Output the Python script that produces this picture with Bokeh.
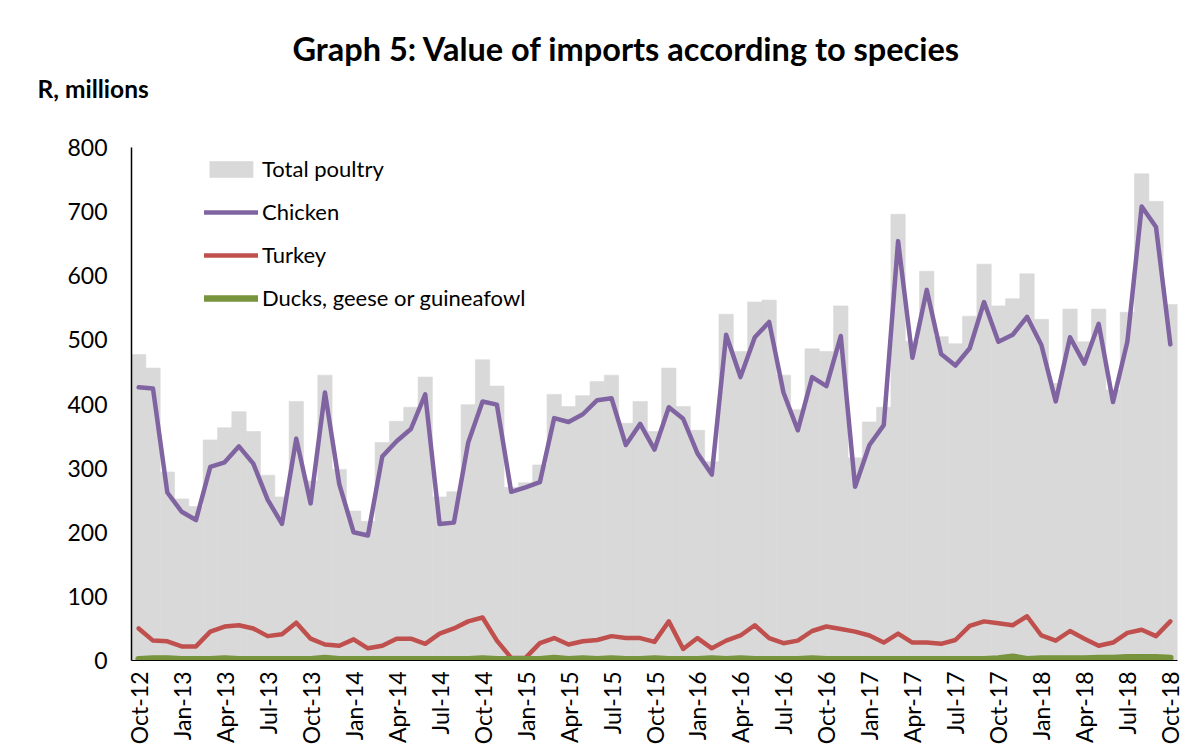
from math import pi
from bokeh.plotting import figure
from bokeh.models import (ColumnDataSource, Legend, LegendItem, Title,
                          FixedTicker, Range1d)
from bokeh.embed import file_html
from bokeh.resources import INLINE

# ---- data (R, millions), monthly Oct-12 .. Oct-18 ----
month_names = ["Jan", "Feb", "Mar", "Apr", "May", "Jun",
               "Jul", "Aug", "Sep", "Oct", "Nov", "Dec"]
months = []
for k in range(73):
    m = (9 + k) % 12
    y = 12 + (9 + k) // 12
    months.append(f"{month_names[m]}-{y:02d}")

total_poultry = [477, 456, 294, 252, 240, 344, 363, 388, 357, 289,
                 255, 404, 280, 445, 298, 233, 217, 340, 373, 395,
                 442, 255, 263, 399, 469, 428, 270, 277, 305, 415,
                 396, 413, 435, 445, 370, 404, 357, 456, 396, 359,
                 310, 540, 482, 559, 562, 445, 391, 486, 482, 553,
                 316, 372, 395, 696, 498, 607, 505, 494, 537, 618,
                 553, 564, 603, 532, 432, 548, 497, 548, 422, 543,
                 759, 716, 555]

chicken = [426, 424, 262, 232, 219, 302, 309, 334, 307, 251,
           213, 346, 245, 418, 275, 200, 195, 318, 342, 361,
           415, 213, 215, 340, 404, 399, 263, 270, 278, 378,
           372, 384, 406, 409, 336, 369, 329, 395, 377, 323,
           290, 508, 442, 504, 528, 418, 359, 442, 428, 506,
           271, 336, 367, 654, 472, 578, 478, 460, 487, 559,
           497, 508, 536, 492, 404, 504, 463, 525, 403, 497,
           708, 676, 493]

turkey = [50, 31, 30, 22, 22, 45, 53, 55, 50, 38,
          41, 59, 34, 25, 23, 33, 19, 23, 34, 34,
          26, 42, 50, 61, 67, 31, 4, 4, 27, 35,
          25, 30, 32, 38, 35, 35, 29, 61, 18, 35,
          19, 31, 39, 55, 35, 27, 31, 46, 53, 49,
          45, 39, 28, 42, 28, 28, 26, 32, 54, 61,
          58, 55, 69, 39, 31, 46, 34, 23, 28, 43,
          48, 38, 61]

ducks = [2, 3, 3, 2, 2, 2, 3, 2, 2, 2,
         2, 2, 2, 4, 2, 2, 2, 2, 2, 2,
         2, 2, 2, 2, 3, 2, 2, 2, 2, 4,
         2, 3, 2, 3, 2, 2, 3, 2, 2, 2,
         3, 2, 3, 2, 2, 2, 2, 3, 2, 2,
         2, 2, 2, 2, 2, 2, 2, 2, 2, 2,
         3, 6, 2, 3, 3, 3, 3, 4, 4, 5,
         5, 5, 4]

tick_idx = list(range(0, 73, 3))

assert len(total_poultry) == len(chicken) == len(turkey) == len(ducks) == 73

src = ColumnDataSource(dict(x=list(range(73)), total=total_poultry,
                            chicken=chicken, turkey=turkey, ducks=ducks,
                            month=months))

FONT = "Lato"

p = figure(width=1199, height=751, output_backend="svg", toolbar_location=None,
           x_range=Range1d(-0.5, 72.5), y_range=Range1d(0, 800),
           min_border_left=131, min_border_right=22,
           min_border_top=147, min_border_bottom=91,
           background_fill_color="white", border_fill_color="white")
p.outline_line_color = None
p.grid.visible = False

bars = p.vbar(x="x", top="total", width=1.0, source=src,
              fill_color="#d9d9d9", line_color="#d9d9d9", line_width=0.6)
l_ch = p.line("x", "chicken", source=src, line_color="#8064a2", line_width=4.5,
              line_join="round", line_cap="round")
l_tu = p.line("x", "turkey", source=src, line_color="#c0504d", line_width=4.5,
              line_join="round", line_cap="round")
l_du = p.line("x", "ducks", source=src, line_color="#77933c", line_width=6.5,
              line_join="round", line_cap="round")

# axes
p.yaxis.ticker = FixedTicker(ticks=list(range(0, 801, 100)))
p.yaxis.major_tick_line_color = None
p.yaxis.minor_tick_line_color = None
p.yaxis.axis_line_color = "black"
p.yaxis.axis_line_width = 1.5
p.yaxis.major_label_standoff = 18
p.yaxis.major_label_text_font = FONT
p.yaxis.major_label_text_font_size = "23px"
p.yaxis.major_label_text_color = "black"

p.xaxis.ticker = FixedTicker(ticks=tick_idx)
p.xaxis.major_label_overrides = {i: months[i] for i in tick_idx}
p.xaxis.major_label_orientation = pi / 2
p.xaxis.major_tick_line_color = None
p.xaxis.minor_tick_line_color = None
p.xaxis.axis_line_color = "black"
p.xaxis.axis_line_width = 1
p.xaxis.major_label_standoff = 5
p.xaxis.major_label_text_font = FONT
p.xaxis.major_label_text_font_size = "23px"
p.xaxis.major_label_text_color = "black"

legend = Legend(items=[
    LegendItem(label="Total poultry", renderers=[bars]),
    LegendItem(label="Chicken", renderers=[l_ch]),
    LegendItem(label="Turkey", renderers=[l_tu]),
    LegendItem(label="Ducks, geese or guineafowl", renderers=[l_du]),
], location=(73, 349))
legend.border_line_color = None
legend.background_fill_alpha = 0
legend.padding = 0
legend.margin = 0
legend.spacing = 16
legend.glyph_width = 54
legend.glyph_height = 20
legend.label_height = 20
legend.label_standoff = 4
legend.label_text_font = FONT
legend.label_text_font_size = "22px"
legend.label_text_color = "black"
p.add_layout(legend)

# sub-title (unit) closest to the frame, main title above it
unit = Title(text="R, millions", align="left", offset=-94, standoff=90,
             text_font=FONT, text_font_size="24.5px", text_font_style="bold",
             text_color="black")
p.add_layout(unit, "above")
main = Title(text="Graph 5: Value of imports according to species",
             align="left", offset=161, standoff=-82,
             text_font=FONT, text_font_size="32.5px", text_font_style="bold",
             text_color="black")
p.add_layout(main, "above")

open("out.html", "w").write(file_html(p, INLINE))
